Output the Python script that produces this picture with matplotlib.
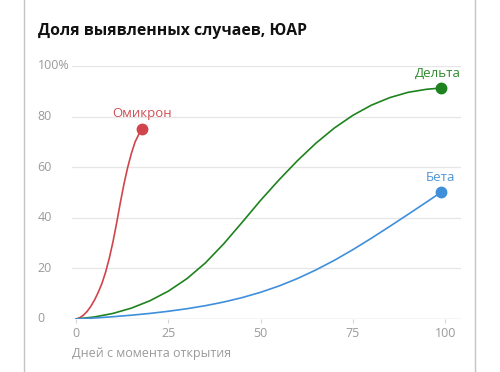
import matplotlib.pyplot as plt
from matplotlib.lines import Line2D
import matplotlib.transforms as transforms

plt.rcParams['font.family'] = ['Open Sans', 'DejaVu Sans']

# data
omicron_days = [0, 1, 2, 3, 4, 5, 6, 7, 8, 9, 10, 11, 12, 13, 14, 15, 16, 17, 18]
omicron_vals = [0, 0.5, 1.5, 3, 5, 7.5, 10.5, 14, 18.5, 24, 30.5, 38, 46, 53.5, 60, 65.5, 70, 73, 75]

delta_days = [0, 5, 10, 15, 20, 25, 30, 35, 40, 45, 50, 55, 60, 65, 70, 75, 80, 85, 90, 95, 99]
delta_vals = [0, 0.8, 2.2, 4.3, 7.2, 11.0, 15.9, 22.1, 29.7, 38.2, 46.9, 55.0, 62.6, 69.5,
              75.5, 80.5, 84.5, 87.5, 89.6, 90.8, 91.3]

beta_days = [0, 5, 10, 15, 20, 25, 30, 35, 40, 45, 50, 55, 60, 65, 70, 75, 80, 85, 90, 95, 99]
beta_vals = [0, 0.4, 0.9, 1.5, 2.2, 3.05, 4.05, 5.25, 6.7, 8.45, 10.55, 13.05, 16.0, 19.4,
             23.2, 27.4, 31.9, 36.6, 41.4, 46.25, 50.2]

x_ticks = [0, 25, 50, 75, 100]
y_ticks = [0, 20, 40, 60, 80, 100]
y_labels = ['0', '20', '40', '60', '80', '100%']

series = [
    ('Омикрон', omicron_days, omicron_vals, '#d2444b'),
    ('Дельта', delta_days, delta_vals, '#1e831e'),
    ('Бета', beta_days, beta_vals, '#3f8fdb'),
]

fig = plt.figure(figsize=(5, 3.72), dpi=100)
ax = fig.add_axes([0.144, 0.1425, 0.778, 0.6801])

for y in y_ticks[1:]:
    ax.axhline(y, color='#e6e6e6', lw=0.9, zorder=0)
ax.axhline(0, color='#cfcfcf', lw=1.0, zorder=1)

for name, days, vals, col in series:
    ax.plot(days, vals, color=col, lw=1.2, zorder=3, solid_capstyle='round',
            solid_joinstyle='round')
    ax.plot(days[-1], vals[-1], 'o', color=col, ms=7.5, zorder=4, clip_on=False)

ax.text(omicron_days[-1], omicron_vals[-1] + 3.5, 'Омикрон', color='#cf4f55',
        fontsize=9.5, ha='center', va='bottom')
ax.text(delta_days[-1] - 1.0, delta_vals[-1] + 3.3, 'Дельта', color='#2f8a2f',
        fontsize=9.5, ha='center', va='bottom')
ax.text(beta_days[-1] - 0.2, beta_vals[-1] + 3.3, 'Бета', color='#4f95d6',
        fontsize=9.5, ha='center', va='bottom')

ax.set_xlim(-1.1, 104.3)
ax.set_ylim(0, 100)
for s in ax.spines.values():
    s.set_visible(False)

ax.set_xticks(x_ticks)
ax.tick_params(axis='x', length=3, color='#d5d5d5', labelcolor='#9a9a9a',
               labelsize=9, pad=3)
ax.set_yticks([])

trans = transforms.blended_transform_factory(fig.transFigure, ax.transData)
for y, lab in zip(y_ticks, y_labels):
    ax.text(0.075, y, lab, transform=trans, ha='left', va='center',
            color='#9a9a9a', fontsize=9)

fig.text(0.144, 0.051, 'Дней с момента открытия', color='#9a9a9a',
         fontsize=9, ha='left', va='center')

fig.text(0.076, 0.918, 'Доля выявленных случаев, ЮАР', color='#111111',
         fontsize=11.3, fontweight='bold', ha='left', va='center')

# card borders
fig.add_artist(Line2D([0.048, 0.048], [0, 1], transform=fig.transFigure,
                      color='#c4c4c4', lw=1))
fig.add_artist(Line2D([0.95, 0.95], [0, 1], transform=fig.transFigure,
                      color='#c4c4c4', lw=1))

fig.savefig('out.png', dpi=100)
